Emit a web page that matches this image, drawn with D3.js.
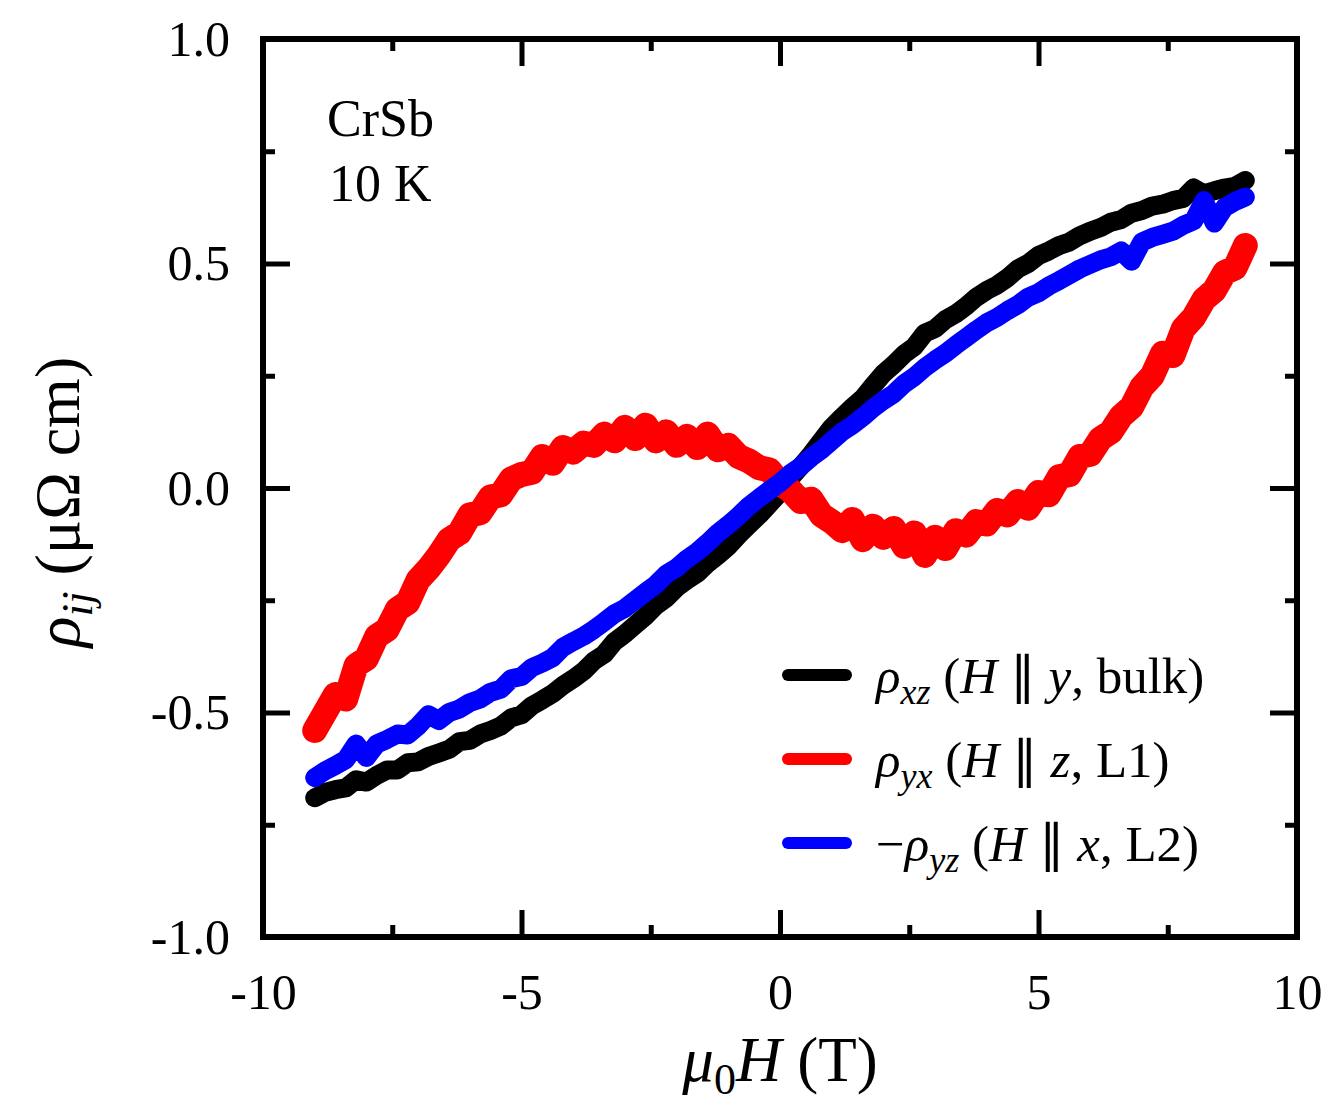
<!DOCTYPE html>
<html>
<head>
<meta charset="utf-8">
<script src="https://cdn.jsdelivr.net/npm/d3@7"></script>
<style>
  body { margin: 0; background: #fff; }
  text { font-family: "Liberation Serif", "Times New Roman", serif; fill: #000; }
</style>
</head>
<body>
<svg id="chartSvg" width="1329" height="1114"></svg>
<script>
// field values (T)
const field = [-9.0,-8.8,-8.6,-8.4,-8.2,-8.0,-7.8,-7.6,-7.4,-7.2,-7.0,-6.8,-6.6,-6.4,-6.2,-6.0,-5.8,-5.6,-5.4,-5.2,
  -5.0,-4.8,-4.6,-4.4,-4.2,-4.0,-3.8,-3.6,-3.4,-3.2,-3.0,-2.8,-2.6,-2.4,-2.2,-2.0,-1.8,-1.6,-1.4,-1.2,
  -1.0,-0.8,-0.6,-0.4,-0.2,0.0,0.2,0.4,0.6,0.8,1.0,1.2,1.4,1.6,1.8,2.0,2.2,2.4,2.6,2.8,
  3.0,3.2,3.4,3.6,3.8,4.0,4.2,4.4,4.6,4.8,5.0,5.2,5.4,5.6,5.8,6.0,6.2,6.4,6.6,6.8,
  7.0,7.2,7.4,7.6,7.8,8.0,8.2,8.4,8.6,8.8,9.0];

// rho_xz (H || y, bulk)
const rhoXZ = [-0.690,-0.678,-0.672,-0.668,-0.650,-0.655,-0.640,-0.628,-0.628,-0.612,-0.610,-0.598,-0.590,-0.582,-0.565,-0.562,-0.548,-0.540,-0.530,-0.512,
  -0.505,-0.485,-0.472,-0.458,-0.440,-0.425,-0.408,-0.385,-0.370,-0.342,-0.325,-0.305,-0.285,-0.262,-0.245,-0.222,-0.205,-0.190,-0.168,-0.150,
  -0.130,-0.105,-0.082,-0.060,-0.035,-0.010,0.022,0.048,0.075,0.105,0.135,0.158,0.180,0.200,0.228,0.255,0.275,0.298,0.315,0.345,
  0.355,0.375,0.388,0.405,0.425,0.440,0.452,0.468,0.488,0.500,0.518,0.528,0.540,0.548,0.562,0.572,0.580,0.592,0.598,0.612,
  0.618,0.628,0.632,0.640,0.645,0.668,0.655,0.662,0.668,0.672,0.685];

// rho_yx (H || z, L1)
const rhoYX = [-0.540,-0.500,-0.460,-0.470,-0.395,-0.380,-0.330,-0.315,-0.270,-0.255,-0.205,-0.180,-0.150,-0.115,-0.100,-0.060,-0.055,-0.020,-0.015,0.020,
  0.030,0.035,0.070,0.055,0.090,0.080,0.100,0.095,0.120,0.105,0.135,0.110,0.140,0.105,0.125,0.095,0.115,0.090,0.120,0.085,
  0.095,0.070,0.060,0.045,0.040,0.010,-0.005,-0.030,-0.025,-0.060,-0.075,-0.095,-0.070,-0.115,-0.085,-0.110,-0.090,-0.130,-0.100,-0.150,
  -0.110,-0.135,-0.095,-0.105,-0.075,-0.080,-0.050,-0.060,-0.030,-0.045,-0.010,-0.015,0.025,0.030,0.070,0.075,0.110,0.125,0.160,0.180,
  0.225,0.250,0.300,0.295,0.355,0.380,0.420,0.440,0.480,0.490,0.540];

// -rho_yz (H || x, L2)
const rhoYZ = [-0.645,-0.630,-0.618,-0.605,-0.570,-0.600,-0.570,-0.560,-0.548,-0.550,-0.530,-0.505,-0.518,-0.500,-0.492,-0.478,-0.470,-0.455,-0.448,-0.425,
  -0.420,-0.400,-0.390,-0.378,-0.355,-0.342,-0.330,-0.315,-0.298,-0.280,-0.268,-0.250,-0.232,-0.215,-0.192,-0.178,-0.158,-0.142,-0.122,-0.100,
  -0.082,-0.062,-0.040,-0.022,-0.005,0.012,0.032,0.048,0.068,0.085,0.105,0.125,0.140,0.158,0.178,0.195,0.210,0.232,0.248,0.268,
  0.285,0.300,0.318,0.335,0.352,0.368,0.380,0.395,0.408,0.425,0.435,0.450,0.462,0.475,0.488,0.498,0.508,0.515,0.528,0.505,
  0.548,0.558,0.565,0.572,0.585,0.595,0.640,0.590,0.625,0.638,0.648];

const xMajor = [-10, -5, 0, 5, 10];
const xMinor = [-7.5, -2.5, 2.5, 7.5];
const yMajor = [-1.0, -0.5, 0.0, 0.5, 1.0];
const yMinor = [-0.75, -0.25, 0.25, 0.75];

const svg = d3.select("#chartSvg");

const plotLeft = 263, plotRight = 1297, plotTop = 39, plotBottom = 937;

const x = d3.scaleLinear().domain([-10, 10]).range([plotLeft, plotRight]);
const y = d3.scaleLinear().domain([-1, 1]).range([plotBottom, plotTop]);

// series, drawn black -> red -> blue
const series = [
  { values: rhoXZ, color: "#000000", width: 19 },
  { values: rhoYX, color: "#ff0000", width: 25 },
  { values: rhoYZ, color: "#0000ff", width: 19 }
];

const line = d3.line()
  .x((d, i) => x(field[i]))
  .y(d => y(d));

series.forEach(s => {
  svg.append("path")
    .datum(s.values)
    .attr("d", line)
    .attr("fill", "none")
    .attr("stroke", s.color)
    .attr("stroke-width", s.width)
    .attr("stroke-linejoin", "round")
    .attr("stroke-linecap", "round");
});

// axes with inward ticks
function styleAxis(g) {
  g.select(".domain").remove();
  g.selectAll(".tick line").attr("stroke", "#000").attr("stroke-width", 5);
  g.selectAll(".tick text").attr("font-size", 50).attr("font-family", "Liberation Serif, Times New Roman, serif");
}

const fmtY = d => d3.format(".1f")(d).replace("−", "-");
const fmtX = d => String(d).replace("−", "-");

svg.append("g")
  .attr("transform", `translate(0,${plotBottom})`)
  .call(d3.axisBottom(x).tickValues(xMajor).tickSize(-27).tickPadding(36).tickFormat(fmtX))
  .call(styleAxis);
svg.append("g")
  .attr("transform", `translate(0,${plotBottom})`)
  .call(d3.axisBottom(x).tickValues(xMinor).tickSize(-12).tickFormat(""))
  .call(styleAxis);
svg.append("g")
  .attr("transform", `translate(0,${plotTop})`)
  .call(d3.axisTop(x).tickValues(xMajor).tickSize(-27).tickFormat(""))
  .call(styleAxis);
svg.append("g")
  .attr("transform", `translate(0,${plotTop})`)
  .call(d3.axisTop(x).tickValues(xMinor).tickSize(-12).tickFormat(""))
  .call(styleAxis);

svg.append("g")
  .attr("transform", `translate(${plotLeft},0)`)
  .call(d3.axisLeft(y).tickValues(yMajor).tickSize(-27).tickPadding(33).tickFormat(fmtY))
  .call(styleAxis);
svg.append("g")
  .attr("transform", `translate(${plotLeft},0)`)
  .call(d3.axisLeft(y).tickValues(yMinor).tickSize(-12).tickFormat(""))
  .call(styleAxis);
svg.append("g")
  .attr("transform", `translate(${plotRight},0)`)
  .call(d3.axisRight(y).tickValues(yMajor).tickSize(-27).tickFormat(""))
  .call(styleAxis);
svg.append("g")
  .attr("transform", `translate(${plotRight},0)`)
  .call(d3.axisRight(y).tickValues(yMinor).tickSize(-12).tickFormat(""))
  .call(styleAxis);

// frame
svg.append("rect")
  .attr("x", plotLeft).attr("y", plotTop)
  .attr("width", plotRight - plotLeft).attr("height", plotBottom - plotTop)
  .attr("fill", "none")
  .attr("stroke", "#000")
  .attr("stroke-width", 6);

// sample annotation
svg.append("text").attr("x", 327).attr("y", 136).attr("font-size", 52).text("CrSb");
svg.append("text").attr("x", 329).attr("y", 201).attr("font-size", 52).text("10 K");

// x axis label
const xl = svg.append("text")
  .attr("x", 780).attr("y", 1081)
  .attr("text-anchor", "middle")
  .attr("font-size", 63);
xl.append("tspan").attr("font-style", "italic").text("μ");
xl.append("tspan").attr("font-size", 44).attr("dy", 13).text("0");
xl.append("tspan").attr("font-style", "italic").attr("dy", -13).text("H");
xl.append("tspan").text(" (T)");

// y axis label
const yl = svg.append("text")
  .attr("transform", "translate(79,502) rotate(-90)")
  .attr("text-anchor", "middle")
  .attr("font-size", 64);
yl.append("tspan").attr("font-style", "italic").text("ρ");
yl.append("tspan").attr("font-style", "italic").attr("font-size", 45).attr("dy", 13).text("ij");
yl.append("tspan").attr("dy", -13).text(" (μΩ cm)");

// legend
const legend = [
  { color: "#000000", pre: "", sub: "xz", axis: "y", tag: "bulk" },
  { color: "#ff0000", pre: "", sub: "yx", axis: "z", tag: "L1" },
  { color: "#0000ff", pre: "−", sub: "yz", axis: "x", tag: "L2" }
];
const legendY = [675, 759, 843];

legend.forEach((d, i) => {
  const ly = legendY[i];
  svg.append("line")
    .attr("x1", 788).attr("x2", 846)
    .attr("y1", ly).attr("y2", ly)
    .attr("stroke", d.color)
    .attr("stroke-width", 12)
    .attr("stroke-linecap", "round");
  const t = svg.append("text")
    .attr("x", 876).attr("y", ly + 18)
    .attr("font-size", 51);
  if (d.pre) t.append("tspan").text(d.pre);
  t.append("tspan").attr("font-style", "italic").text("ρ");
  t.append("tspan").attr("font-style", "italic").attr("font-size", 36).attr("dy", 11).text(d.sub);
  t.append("tspan").attr("dy", -11).text(" (");
  t.append("tspan").attr("font-style", "italic").text("H");
  t.append("tspan").text(" ∥ ");
  t.append("tspan").attr("font-style", "italic").text(d.axis);
  t.append("tspan").text(", " + d.tag + ")");
});
</script>
</body>
</html>
